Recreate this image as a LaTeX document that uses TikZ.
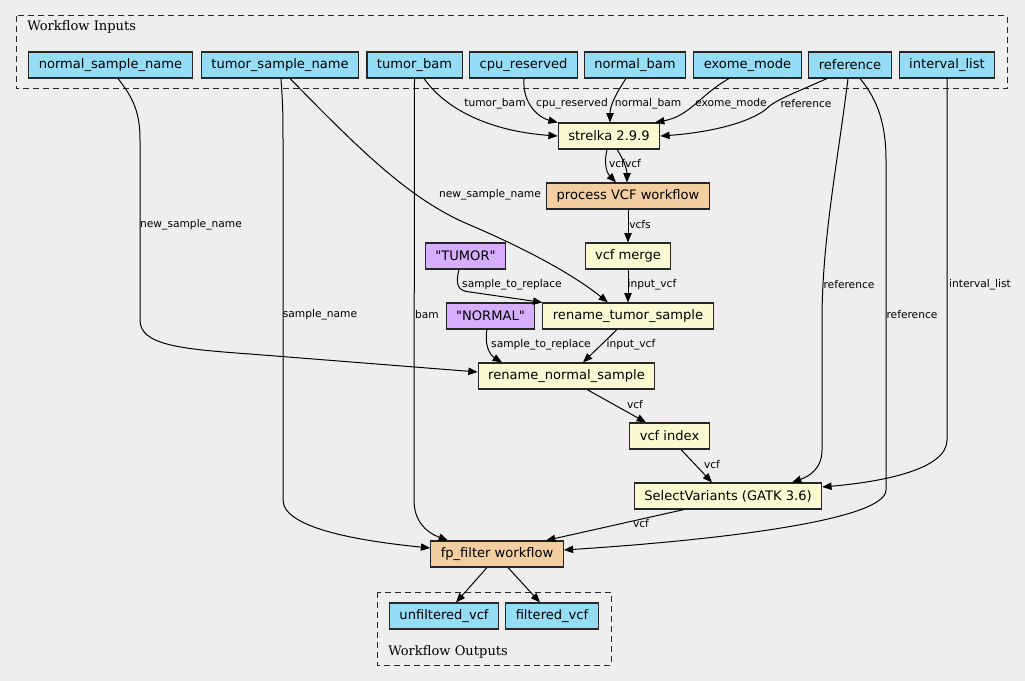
\documentclass[tikz,border=0pt]{standalone}
\usepackage{fontspec}
\usepackage{tikz}
\usetikzlibrary{arrows.meta,calc}
\newfontfamily\nodefont{DejaVu Sans}
\newfontfamily\clusterfont{DejaVu Serif}
\definecolor{bggrey}{HTML}{EEEEEE}
\definecolor{inputblue}{HTML}{94DDF4}
\definecolor{stepyellow}{HTML}{FAFAD2}
\definecolor{subflow}{HTML}{F3CEA1}
\definecolor{valuepurple}{HTML}{D5AEFC}

\begin{document}
\begin{tikzpicture}[x=0.75pt,y=-0.75pt,>={Triangle[length=7pt,width=5.5pt]},
    box/.style={draw=black!85,line width=0.8pt,minimum height=19.5pt,inner xsep=7.5pt,
                font=\nodefont\fontsize{9.8}{11}\selectfont},
    input node/.style={box,fill=inputblue},
    step node/.style={box,fill=stepyellow},
    sub node/.style={box,fill=subflow},
    value node/.style={box,fill=valuepurple},
    wire label/.style={font=\nodefont\fontsize{8}{9}\selectfont,inner sep=1pt},
    link/.style={->,line width=0.75pt},
    cluster/.style={draw=black!85,dash pattern=on 4.5pt off 3pt,line width=0.75pt},
    cluster label/.style={anchor=west,inner sep=0pt,font=\clusterfont\fontsize{9.8}{11}\selectfont}]
%Background
    \fill[bggrey] (0,0) rectangle (1025,681);
    \useasboundingbox (0,0) rectangle (1025,681);
%Clusters
    \draw[cluster] (16,16) rectangle (1007,89);
    \node[cluster label] (inlabel) at (27,27) {Workflow Inputs};
    \draw[cluster] (377,592) rectangle (611,665);
    \node[cluster label] (outlabel) at (388,651.5) {Workflow Outputs};
%Inputs
    \node[input node] (normalname) at (110.5,65) {normal\_sample\_name};
    \node[input node] (tumorname) at (280,65) {tumor\_sample\_name};
    \node[input node] (tumorbam) at (414.5,65) {tumor\_bam};
    \node[input node] (cpu) at (523.5,65) {cpu\_reserved};
    \node[input node] (normalbam) at (635,65) {normal\_bam};
    \node[input node] (exome) at (747.5,65) {exome\_mode};
    \node[input node] (reference) at (850,65) {reference};
    \node[input node] (intervals) at (947,65) {interval\_list};
%Steps
    \node[step node] (strelka) at (609,136) {strelka 2.9.9};
    \node[sub node] (process) at (628,196) {process VCF workflow};
    \node[step node] (merge) at (628,256) {vcf merge};
    \node[value node] (tumorval) at (465.5,256) {"TUMOR"};
    \node[value node] (normalval) at (490.5,316) {"NORMAL"};
    \node[step node] (renametumor) at (628,316) {rename\_tumor\_sample};
    \node[step node] (renamenormal) at (566.5,376) {rename\_normal\_sample};
    \node[step node] (index) at (669.5,436) {vcf index};
    \node[step node] (select) at (728,496) {SelectVariants (GATK 3.6)};
    \node[sub node] (fpfilter) at (497,554) {fp\_filter workflow};
%Outputs
    \node[input node] (unfiltered) at (444,616) {unfiltered\_vcf};
    \node[input node] (filtered) at (552,616) {filtered\_vcf};
%Lines
    \draw[link] (tumorbam.south -| 424,0) .. controls (450,115) and (500,132) .. (strelka.west)
        node[wire label] at (495,104) {tumor\_bam};
    \draw[link] (cpu.south -| 524,0) .. controls (522,105) and (540,118) .. (strelka.north west)
        node[wire label] at (572,104) {cpu\_reserved};
    \draw[link] (normalbam.south -| 626,0) .. controls (617,92) and (610,105) .. (strelka.north -| 610,0)
        node[wire label] at (648,104) {normal\_bam};
    \draw[link] (exome.south -| 729,0) .. controls (700,95) and (690,116) .. (strelka.north -| 655,0)
        node[wire label] at (731,104) {exome\_mode};
    \draw[link] (reference.south -| 827,0) .. controls (790,95) and (775,100) .. (765,110)
        .. controls (740,128) and (690,134) .. (strelka.east)
        node[wire label] at (806,104) {reference};
    \draw[link] (strelka.south -| 607,0) .. controls (604,162) and (606,172) .. (process.north -| 616,0)
        node[wire label] at (617,164) {vcf};
    \draw[link] (strelka.south -| 617,0) .. controls (624,160) and (627,170) .. (process.north -| 627,0)
        node[wire label] at (633,164) {vcf};
    \draw[link] (process) -- (merge) node[wire label] at (640,225) {vcfs};
    \draw[link] (merge) -- (renametumor) node[wire label] at (652,285) {input\_vcf};
    \draw[link] (tumorval.south -| 459,0) .. controls (455,285) and (458,291) .. (470,292)
        -- (renametumor.north west)
        node[wire label] at (512,285) {sample\_to\_replace};
    \draw[link] (tumorname.south -| 290,0) .. controls (360,150) and (410,200) .. (470,225)
        .. controls (540,255) and (580,280) .. (renametumor.north -| 608,0)
        node[wire label] at (490,195) {new\_sample\_name};
    \draw[link] (normalval.south -| 487,0) .. controls (484,345) and (490,355) .. (renamenormal.north -| 502,0)
        node[wire label] at (541,345) {sample\_to\_replace};
    \draw[link] (renametumor.south -| 617,0) -- (renamenormal.north -| 583,0)
        node[wire label] at (631,345) {input\_vcf};
    \draw[link] (normalname.south -| 118,0) .. controls (135,100) and (140,115) .. (140,140)
        -- (140,320) .. controls (140,345) and (180,349) .. (250,354)
        -- (renamenormal.west |- 0,372)
        node[wire label] at (191,225) {new\_sample\_name};
    \draw[link] (renamenormal.south -| 587,0) -- (index.north -| 646,0)
        node[wire label] at (635,405) {vcf};
    \draw[link] (index.south -| 681,0) -- (select.north -| 712,0)
        node[wire label] at (712,465) {vcf};
    \draw[link] (reference.south -| 848,0) .. controls (838,160) and (822,240) .. (822,320)
        -- (822,450) .. controls (822,468) and (810,476) .. (select.north -| 792,0)
        node[wire label] at (849,285) {reference};
    \draw[link] (intervals.south) -- (947,440) .. controls (947,470) and (880,482) .. (select.east |- 0,487)
        node[wire label] at (980,285) {interval\_list};
    \draw[link] (select.south -| 684,0) -- (fpfilter.north -| 546,0)
        node[wire label] at (641,524) {vcf};
    \draw[link] (reference.south -| 860,0) .. controls (878,100) and (886,125) .. (886,160)
        -- (886,490) .. controls (886,520) and (720,540) .. (fpfilter.east |- 0,550)
        node[wire label] at (912,315) {reference};
    \draw[link] (tumorname.south -| 281,0) .. controls (283,110) .. (283,150)
        -- (283,500) .. controls (283,530) and (370,542) .. (fpfilter.west |- 0,548)
        node[wire label] at (320,315) {sample\_name};
    \draw[link] (tumorbam.south) -- (414,500) .. controls (414,520) and (425,532) .. (fpfilter.north -| 448,0)
        node[wire label] at (427,315) {bam};
    \draw[link] (fpfilter.south -| 487,0) -- (unfiltered.north -| 456,0);
    \draw[link] (fpfilter.south -| 508,0) -- (filtered.north -| 540,0);
\end{tikzpicture}
\end{document}
